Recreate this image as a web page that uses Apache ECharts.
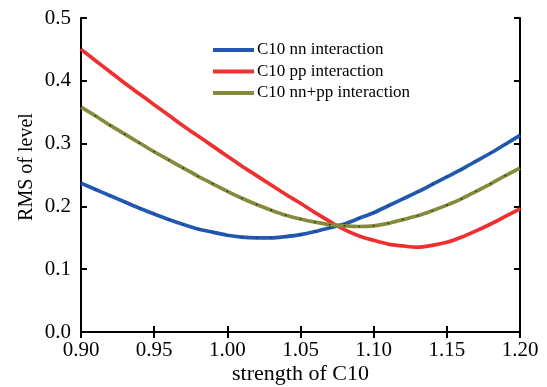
<!DOCTYPE html>
<html>
<head>
<meta charset="utf-8">
<script src="https://cdn.jsdelivr.net/npm/echarts@6/dist/echarts.min.js"></script>
<style>
  html, body { margin: 0; padding: 0; background: #fff; }
  #chart { width: 547px; height: 387px; }
</style>
</head>
<body>
<div id="chart"></div>
<script>
// strength of C10, step 0.01
const strength = [0.90, 0.91, 0.92, 0.93, 0.94, 0.95, 0.96, 0.97, 0.98, 0.99,
  1.00, 1.01, 1.02, 1.03, 1.04, 1.05, 1.06, 1.07, 1.08, 1.09,
  1.10, 1.11, 1.12, 1.13, 1.14, 1.15, 1.16, 1.17, 1.18, 1.19, 1.20]

const nnRms = [0.237, 0.227, 0.217, 0.207, 0.197, 0.188, 0.179, 0.171, 0.164, 0.159,
  0.154, 0.151, 0.150, 0.150, 0.152, 0.155, 0.160, 0.166, 0.172, 0.181,
  0.190, 0.201, 0.212, 0.223, 0.235, 0.247, 0.259, 0.272, 0.285, 0.299, 0.313]

const ppRms = [0.450, 0.432, 0.414, 0.396, 0.379, 0.362, 0.345, 0.328, 0.312, 0.296,
  0.280, 0.264, 0.249, 0.234, 0.219, 0.205, 0.190, 0.176, 0.163, 0.153,
  0.146, 0.140, 0.137, 0.135, 0.138, 0.143, 0.151, 0.161, 0.172, 0.184, 0.196]

const nnppRms = [0.358, 0.344, 0.329, 0.315, 0.301, 0.287, 0.274, 0.261, 0.248, 0.236,
  0.224, 0.213, 0.203, 0.194, 0.186, 0.180, 0.175, 0.171, 0.169, 0.168,
  0.169, 0.173, 0.179, 0.185, 0.193, 0.202, 0.212, 0.224, 0.236, 0.249, 0.261]

const seriesNames = ['C10 nn interaction', 'C10 pp interaction', 'C10 nn+pp interaction']
const lineColors = ['#2358b0', '#ee3030', '#868a3c']
const dotColors = ['#10307a', '#ee3030', '#1a1a10']

const font = 'Liberation Serif'
const chart = echarts.init(document.getElementById('chart'))

const pairs = arr => strength.map((s, i) => [s, arr[i]])

const frameAxis = (extra) => Object.assign({
  axisLine: { show: true, lineStyle: { color: '#000', width: 2 } },
  axisTick: { show: true, inside: true, length: 6, lineStyle: { color: '#000', width: 2 } },
  splitLine: { show: false }
}, extra)

chart.setOption({
  animation: false,
  backgroundColor: '#fff',
  grid: { left: 81, right: 27, top: 18, bottom: 55, outerBoundsMode: 'none' },
  legend: {
    orient: 'vertical',
    left: 213,
    top: 41,
    padding: 0,
    itemWidth: 41,
    itemHeight: 4,
    itemGap: 3.5,
    icon: 'rect',
    textStyle: { fontFamily: font, fontSize: 17, lineHeight: 18, color: '#000', padding: [0, 0, 0, -2] },
    data: seriesNames.map((n, i) => ({ name: n, itemStyle: { color: lineColors[i] } }))
  },
  xAxis: [
    frameAxis({
      type: 'value', min: 0.9, max: 1.2, interval: 0.05,
      name: 'strength of C10', nameLocation: 'middle', nameGap: 31, nameMoveOverlap: false,
      nameTextStyle: { fontFamily: font, fontSize: 22, color: '#000' },
      axisLabel: { fontFamily: font, fontSize: 21, color: '#000', margin: 8,
        formatter: v => v.toFixed(2) }
    }),
    frameAxis({
      type: 'value', position: 'top', min: 0.9, max: 1.2, interval: 0.05,
      axisLabel: { show: false }
    })
  ],
  yAxis: [
    frameAxis({
      type: 'value', min: 0, max: 0.5, interval: 0.1,
      name: 'RMS of level', nameLocation: 'middle', nameGap: 44, nameMoveOverlap: false,
      nameTextStyle: { fontFamily: font, fontSize: 20, color: '#000', padding: [0, 0, 0, 16] },
      axisLabel: { fontFamily: font, fontSize: 21, color: '#000', margin: 10,
        formatter: v => v.toFixed(1) }
    }),
    frameAxis({
      type: 'value', position: 'right', min: 0, max: 0.5, interval: 0.1,
      axisLabel: { show: false }
    })
  ],
  series: [nnRms, ppRms, nnppRms].map((arr, i) => ({
    name: seriesNames[i],
    type: 'line',
    data: pairs(arr),
    smooth: 0.3,
    symbol: 'circle',
    symbolSize: 1.6,
    showSymbol: true,
    lineStyle: { color: lineColors[i], width: 3.7 },
    itemStyle: { color: dotColors[i], borderWidth: 0 },
    z: 2 + i
  }))
})
</script>
</body>
</html>
